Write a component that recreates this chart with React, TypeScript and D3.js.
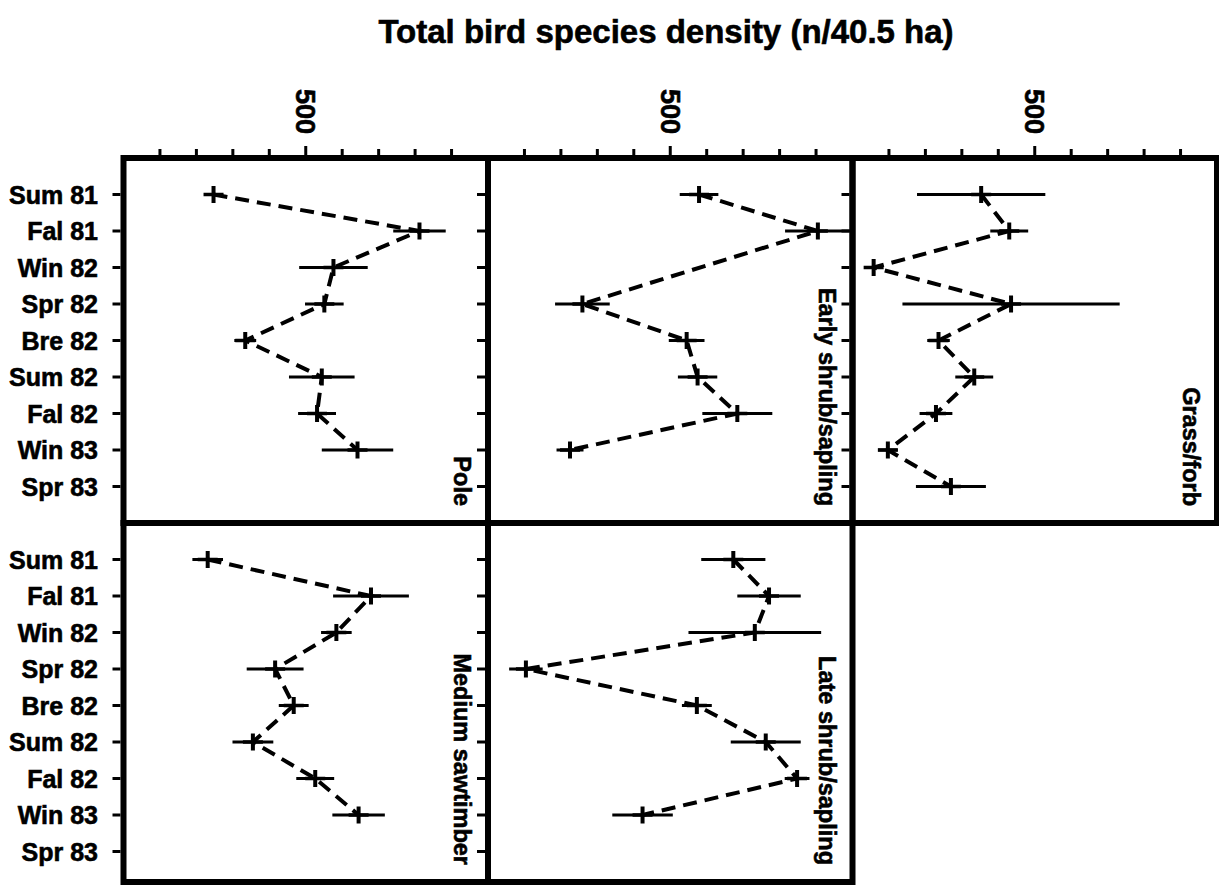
import React from "react";
import * as d3 from "d3";

const seasons = ["Sum 81", "Fal 81", "Win 82", "Spr 82", "Bre 82", "Sum 82", "Fal 82", "Win 83", "Spr 83"];
const habitats = ["Pole", "Early shrub/sapling", "Grass/forb", "Medium sawtimber", "Late shrub/sapling"];
const title = "Total bird species density (n/40.5 ha)";
const xTicks = [100, 200, 300, 400, 500, 600, 700, 800, 900];
const xTickLabels = ["500"];

const poleMean = [247, 812, 576, 551, 334, 544, 531, 642, null];
const poleErr = [15, 72, 94, 53, 30, 90, 52, 98, null];
const earlyMean = [579, 905, null, 259, 545, 575, 684, 225, null];
const earlyErr = [53, 90, null, 75, 49, 54, 96, 37, null];
const grassMean = [353, 430, 58, 435, 236, 334, 229, 97, 270];
const grassErr = [176, 52, 24, 298, 31, 52, 45, 27, 96];
const mediumMean = [231, 679, 584, 416, 467, 355, 526, 645, null];
const mediumErr = [42, 104, 42, 78, 41, 56, 52, 72, null];
const lateMean = [673, 771, 732, 104, 573, 762, 848, 424, null];
const lateErr = [88, 87, 182, 46, 41, 96, 34, 83, null];

const means = [poleMean, earlyMean, grassMean, mediumMean, lateMean];
const errs = [poleErr, earlyErr, grassErr, mediumErr, lateErr];

const W = 1219;
const H = 885;
const LEFT = 123.5;
const PW = 364.5;
const TOP = 158;
const RH = 365;
const BOTTOM = 882;
const FONT = "'Liberation Sans', Arial, Helvetica, sans-serif";

export default function App() {
  const panels = habitats.map((name, i) => {
    const row = i < 3 ? 0 : 1;
    const col = i % 3;
    const x0 = LEFT + col * PW;
    const y0 = TOP + row * RH;
    const yBottom = row === 0 ? TOP + RH : BOTTOM;
    const x = d3.scaleLinear().domain([0, 1000]).range([x0, x0 + PW]);
    const y = d3.scalePoint<string>().domain(seasons).range([y0, y0 + RH]).padding(1);
    const pts = seasons
      .map((s, k) => ({ s, m: means[i][k], e: errs[i][k] }))
      .filter((d) => d.m !== null) as { s: string; m: number; e: number }[];
    const line = d3
      .line<{ s: string; m: number }>()
      .x((d) => x(d.m))
      .y((d) => y(d.s)!);
    return { name, row, col, x0, y0, yBottom, x, y, pts, line, i };
  });

  const textStroke = { stroke: "#000", strokeWidth: 0.6 };

  return (
    <svg
      width={W}
      height={H}
      style={{ position: "absolute", left: 0, top: 0, background: "#fff" }}
      fontFamily={FONT}
    >
      <rect x={0} y={0} width={W} height={H} fill="#fff" />
      <text x={666} y={43} fontSize={33} fontWeight="bold" textAnchor="middle" {...textStroke}>
        {title}
      </text>
      <defs>
        {panels.map((p) => (
          <clipPath id={`clip${p.i}`} key={p.i}>
            <rect x={p.x0} y={p.y0} width={PW} height={p.yBottom - p.y0} />
          </clipPath>
        ))}
      </defs>
      {panels.map((p) => (
        <g key={p.i}>
          {seasons.map((s) => (
            <line
              key={s}
              x1={p.x0 - 3}
              x2={p.x0 - 11}
              y1={p.y(s)}
              y2={p.y(s)}
              stroke="#000"
              strokeWidth={3}
            />
          ))}
          {p.row === 0 &&
            xTicks.map((v) => (
              <line
                key={v}
                x1={p.x(v)}
                x2={p.x(v)}
                y1={p.y0 - 3}
                y2={p.y0 - 3 - (v === 500 ? 9 : 6)}
                stroke="#000"
                strokeWidth={3}
              />
            ))}
          {p.row === 0 &&
            xTickLabels.map((l) => (
              <text
                key={l}
                transform={`translate(${p.x(+l) - 9.7},134) rotate(90)`}
                textAnchor="end"
                fontSize={27}
                fontWeight="bold"
                {...textStroke}
              >
                {l}
              </text>
            ))}
          {p.col === 0 &&
            seasons.map((s) => (
              <text
                key={s}
                x={98}
                y={p.y(s)}
                dy="0.36em"
                textAnchor="end"
                fontSize={25}
                fontWeight="bold"
                {...textStroke}
              >
                {s}
              </text>
            ))}
          <g clipPath={`url(#clip${p.i})`}>
            <path
              d={p.line(p.pts) || ""}
              fill="none"
              stroke="#000"
              strokeWidth={4}
              strokeDasharray="14 8"
            />
            {p.pts.map((d) => {
              const cx = p.x(d.m);
              const cy = p.y(d.s)!;
              return (
                <g key={d.s}>
                  <line
                    x1={p.x(d.m - d.e)}
                    x2={p.x(d.m + d.e)}
                    y1={cy}
                    y2={cy}
                    stroke="#000"
                    strokeWidth={3}
                  />
                  <line x1={cx - 10} x2={cx + 10} y1={cy} y2={cy} stroke="#000" strokeWidth={3.5} />
                  <line x1={cx} x2={cx} y1={cy - 8.5} y2={cy + 8.5} stroke="#000" strokeWidth={4} />
                </g>
              );
            })}
          </g>
          <rect
            x={p.x0}
            y={p.y0}
            width={PW}
            height={p.yBottom - p.y0}
            fill="none"
            stroke="#000"
            strokeWidth={6}
          />
          <text
            transform={`translate(${p.x0 + PW - 34},${p.yBottom - 17}) rotate(90)`}
            textAnchor="end"
            fontSize={23.5}
            fontWeight="bold"
            {...textStroke}
          >
            {p.name}
          </text>
        </g>
      ))}
    </svg>
  );
}
